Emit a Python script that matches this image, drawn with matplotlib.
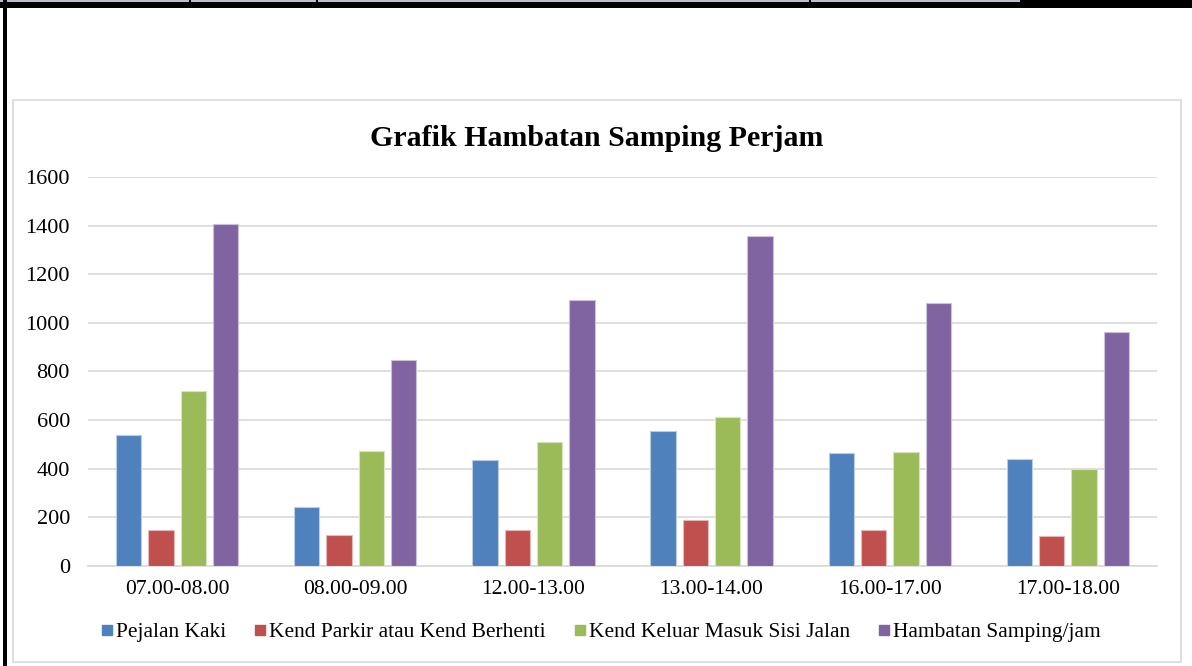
import matplotlib

matplotlib.use("Agg")
import matplotlib.pyplot as plt  # noqa: E402
import numpy as np  # noqa: E402
from matplotlib.lines import Line2D  # noqa: E402
from matplotlib.patches import Rectangle  # noqa: E402

W, H = 1192, 666

categories = ["07.00-08.00", "08.00-09.00", "12.00-13.00",
              "13.00-14.00", "16.00-17.00", "17.00-18.00"]
series_names = ["Pejalan Kaki", "Kend Parkir atau Kend Berhenti",
                "Kend Keluar Masuk Sisi Jalan", "Hambatan Samping/jam"]
pejalan_kaki = [538, 243, 434, 554, 463, 439]
kend_parkir = [149, 128, 149, 188, 149, 124]
kend_keluar_masuk = [719, 474, 508, 612, 468, 398]
hambatan_samping = [1406, 846, 1093, 1357, 1082, 961]
yticks = [0, 200, 400, 600, 800, 1000, 1200, 1400, 1600]

colors = ["#4F81BD", "#C0504D", "#9BBB59", "#8064A2"]
edges = ["#b9cde5", "#e6b9b8", "#d7e4bd", "#ccc1da"]

plt.rcParams["font.family"] = ["Liberation Serif", "DejaVu Serif"]

fig = plt.figure(figsize=(W / 100, H / 100), dpi=100)


def fx(px):
    return px / W


def fy(py):
    return 1 - py / H


# outer sheet frame: grey cells row, thick black top rule and left rule
fig.patches.append(Rectangle((0, fy(2)), 1, 2 / H, transform=fig.transFigure,
                             facecolor="#b4c0cc", edgecolor="none", zorder=0))
for sx in [190, 317, 810]:
    fig.patches.append(Rectangle((fx(sx - 1), fy(2)), 2 / W, 2 / H,
                                 transform=fig.transFigure, facecolor="black",
                                 edgecolor="none", zorder=1))
fig.patches.append(Rectangle((fx(1020), fy(2)), 1 - fx(1020), 2 / H,
                             transform=fig.transFigure, facecolor="black",
                             edgecolor="none", zorder=1))
fig.patches.append(Rectangle((0, fy(7.5)), 1, 5.5 / H, transform=fig.transFigure,
                             facecolor="black", edgecolor="none", zorder=1))
fig.patches.append(Rectangle((fx(2.5), 0), 4.5 / W, 1, transform=fig.transFigure,
                             facecolor="black", edgecolor="none", zorder=1))

# chart area border
fig.patches.append(Rectangle((fx(13), fy(662)), fx(1181) - fx(13), (662 - 100) / H,
                             transform=fig.transFigure, facecolor="none",
                             edgecolor="#d9d9d9", linewidth=1.2, zorder=1))

ax = fig.add_axes([fx(88), fy(566), fx(1157) - fx(88), fy(177) - fy(566)])
ax.set_facecolor("none")

x = np.arange(len(categories))
pitch = 0.1815
width = 0.143
all_series = [pejalan_kaki, kend_parkir, kend_keluar_masuk, hambatan_samping]
for i, vals in enumerate(all_series):
    ax.bar(x + (i - 1.5) * pitch, vals, width=width, color=colors[i],
           edgecolor=edges[i], linewidth=0.8, zorder=3)

ax.set_xlim(-0.5, len(categories) - 0.5)
ax.set_ylim(0, 1600)
ax.set_yticks(yticks)
ax.set_yticklabels([str(v) for v in yticks], fontsize=16)
ax.set_xticks(x)
ax.set_xticklabels(categories, fontsize=15.5)
ax.tick_params(length=0)
ax.tick_params(axis="y", pad=13)
ax.tick_params(axis="x", pad=10)
ax.grid(axis="y", color="#d9d9d9", linewidth=1.2, zorder=0)
for side in ["top", "right", "left"]:
    ax.spines[side].set_visible(False)
ax.spines["bottom"].set_color("#d9d9d9")
ax.spines["bottom"].set_linewidth(1.2)

fig.text(fx(597), fy(138), "Grafik Hambatan Samping Perjam", ha="center",
         va="center", fontsize=21.5, fontweight="bold")

handles = [Line2D([], [], marker="s", linestyle="none", markersize=7.5,
                  markerfacecolor=c, markeredgecolor=c) for c in colors]
fig.legend(handles, series_names, loc="center", bbox_to_anchor=(fx(601), fy(632)),
           ncol=4, frameon=False, fontsize=15.5, handlelength=0.5,
           handletextpad=0.15, columnspacing=1.35)

fig.savefig("out.png", dpi=100)
